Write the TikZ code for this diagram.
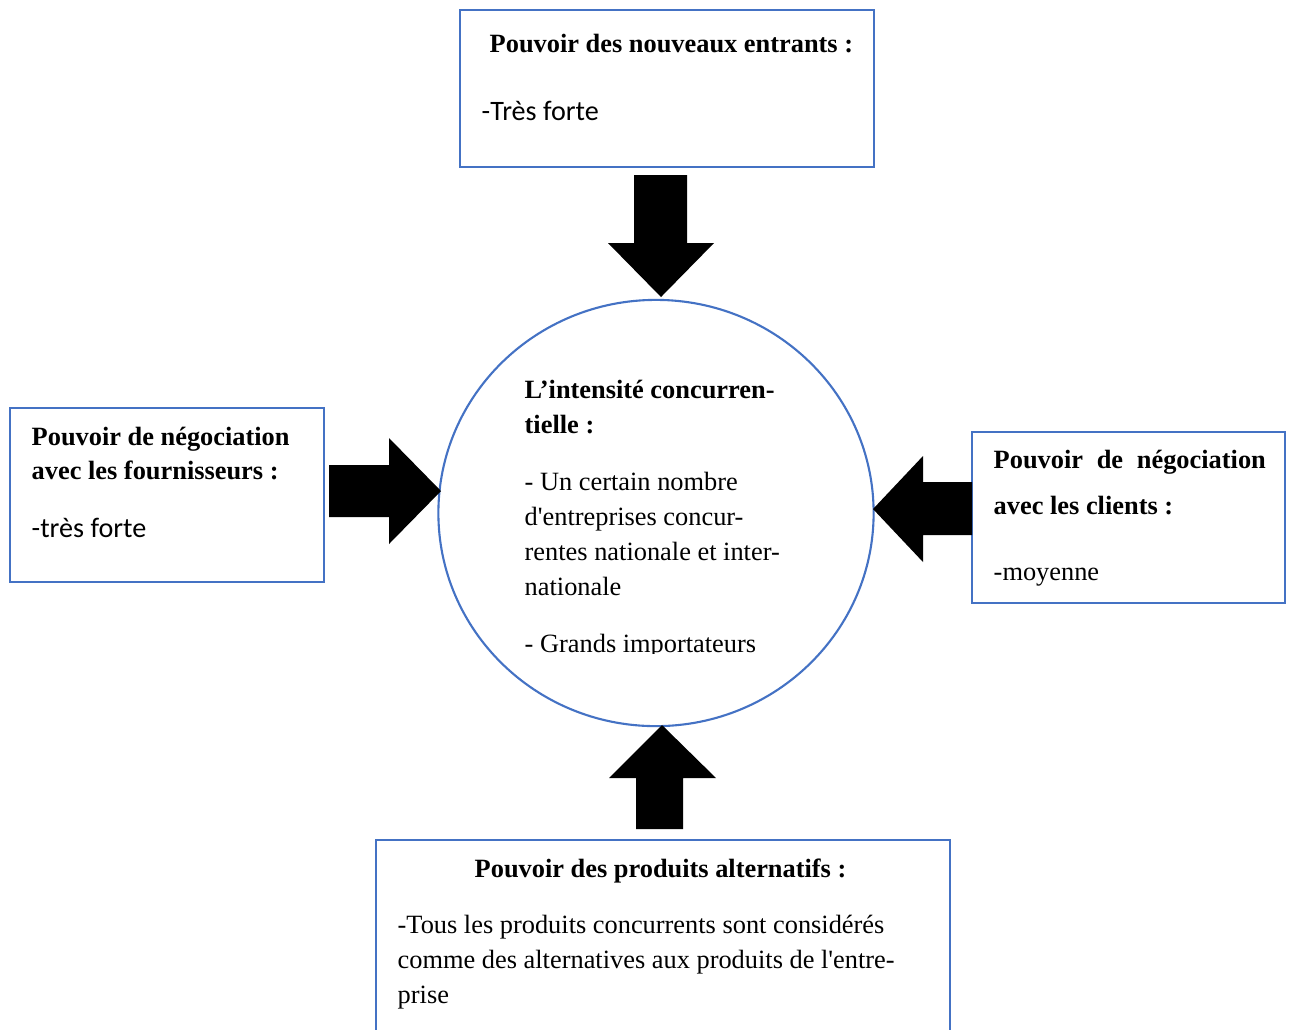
\documentclass[tikz,border=0pt]{standalone}
\usepackage{fontspec}
\setmainfont{Liberation Serif}
\newfontfamily\calibri{Carlito}
\usetikzlibrary{calc}
\definecolor{bleuword}{HTML}{4472C4}
% plusieurs lignes, ligne de base sur la premiere
\newcommand{\lignes}[1]{\begin{tabular}[t]{@{}l@{}}#1\end{tabular}}

\begin{document}
\begin{tikzpicture}[x=0.01cm,y=-0.01cm,
    cadre/.style={draw=bleuword,line width=0.6pt},
    texte/.style={anchor=base west,inner sep=0pt,
        font=\fontsize{7.5}{9.96}\selectfont},
    titre/.style={texte,font=\fontsize{7.5}{9.7}\selectfont\bfseries},
    fleche/.style={fill=black}]
    \clip (0,0) rectangle (1291,1029);

    % Les cadres
    \draw[cadre] (460,10) rectangle (874,167);
    \draw[cadre] (10,408) rectangle (324,582);
    \draw[cadre] (972,432) rectangle (1285,603);
    \draw[cadre] (376,840) rectangle (950,1060);

    % Le cercle central
    \coordinate (O) at (656,513);
    \draw[cadre] (O) ellipse [x radius=2.175cm,y radius=2.13cm];

    % Nouveaux entrants
    \node[titre] (entT) at (489,52) {Pouvoir des nouveaux entrants :};
    \node[texte,font=\fontsize{8}{10}\calibri] (entV) at (481,120) {-Très forte};

    % Fournisseurs
    \node[titre] (fouT) at (31,445) {\lignes{Pouvoir de négociation\\avec les fournisseurs :}};
    \node[texte,font=\fontsize{8}{10}\calibri] (fouV) at (31,537) {-très forte};

    % Clients
    \node[titre] (cliT) at (993,468) {\makebox[2.72cm][s]{Pouvoir de négociation}};
    \node[titre] (cliU) at (993,514) {avec les clients :};
    \node[texte] (cliV) at (993,580) {-moyenne};

    % Produits alternatifs
    \node[titre] (altT) at (474,877) {Pouvoir des produits alternatifs :};
    \node[texte] (altV) at (397,933) {\lignes{-Tous les produits concurrents sont considérés\\
        comme des alternatives aux produits de l\textquotesingle entre-\\prise}};

    % Intensité concurrentielle
    \begin{scope}
        \clip (430,360) rectangle (880,653);
        \node[titre,font=\fontsize{7.5}{9.96}\selectfont\bfseries] (intT) at (524,398)
            {\lignes{L’intensité concurren-\\tielle :}};
        \node[texte] (intA) at (524,490) {\lignes{- Un certain nombre\\
            d\textquotesingle entreprises concur-\\
            rentes nationale et inter-\\nationale}};
        \node[texte] (intB) at (524,652) {- Grands importateurs};
    \end{scope}

    % Flèches
    \coordinate (tN) at (661,297);
    \coordinate (tO) at (441,491);
    \coordinate (tE) at (873,509);
    \coordinate (tS) at (662,725);
    \fill[fleche] (634,175) -- (687,175) -- (687,243) -- (714,243) -- (tN)
        -- (608,243) -- (634,243) -- cycle;
    \fill[fleche] (329,465) -- (389,465) -- (389,438) -- (tO)
        -- (389,544) -- (389,517) -- (329,517) -- cycle;
    \fill[fleche] (972,482) -- (923,482) -- (923,456) -- (tE)
        -- (923,562) -- (923,535) -- (972,535) -- cycle;
    \fill[fleche] (636,829) -- (636,778) -- (609,778) -- (tS)
        -- (716,778) -- (683,778) -- (683,829) -- cycle;
\end{tikzpicture}
\end{document}
